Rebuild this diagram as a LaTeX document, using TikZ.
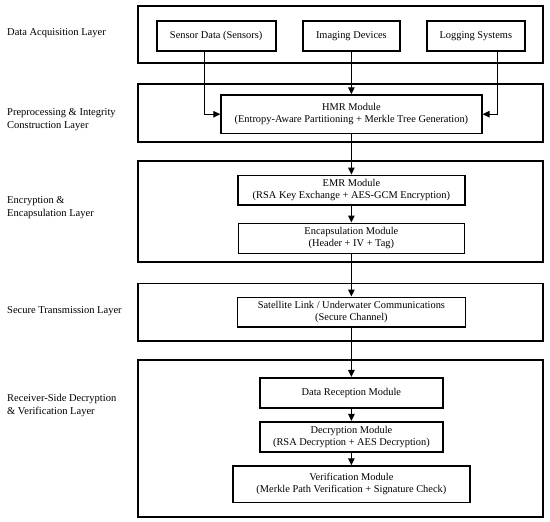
\documentclass[tikz,border=0pt]{standalone}
\usepackage{fontspec}
\setmainfont{Liberation Serif}
\usetikzlibrary{arrows.meta}
\begin{document}
\begin{tikzpicture}[x=1pt,y=-1pt,
  layerbox/.style={draw, line width=1.7pt, inner sep=0pt, minimum width=405pt},
  modbox/.style={draw, line width=1.6pt, inner sep=0pt, align=center, font=\fontsize{10.4}{12}\selectfont},
  laylabel/.style={anchor=west, inner sep=0pt, align=left, font=\fontsize{10.5}{13}\selectfont},
  arr/.style={line width=1.2pt, -{Triangle[length=7pt,width=6.5pt]}}]
\useasboundingbox (0,0) rectangle (550,522);
% layers
\node[layerbox, minimum height=57pt] (L1) at (340.5,34.5) {};
\node[layerbox, minimum height=57.4pt] (L2) at (340.5,113) {};
\node[layerbox, minimum height=101pt] (L3) at (340.5,211.5) {};
\node[layerbox, minimum height=57.7pt] (L4) at (340.5,312.2) {};
\node[layerbox, minimum height=157pt] (L5) at (340.5,438.5) {};
% labels
\node[laylabel] (T1) at (7,33) {Data Acquisition Layer};
\node[laylabel] (T2) at (7,120) {Preprocessing \& Integrity\\Construction Layer};
\node[laylabel] (T3) at (7,208) {Encryption \&\\Encapsulation Layer};
\node[laylabel] (T4) at (7,311) {Secure Transmission Layer};
\node[laylabel] (T5) at (7,405.5) {Receiver-Side Decryption\\\& Verification Layer};
% modules
\node[modbox, minimum width=119pt, minimum height=30pt] (sensor) at (216.2,35.7) {Sensor Data (Sensors)};
\node[modbox, minimum width=97pt, minimum height=30pt] (imaging) at (351.4,35.7) {Imaging Devices};
\node[modbox, minimum width=98.3pt, minimum height=30pt] (logging) at (475.85,35.7) {Logging Systems};
\node[modbox, minimum width=260.7pt, minimum height=38.3pt] (hmr) at (351.4,114.2) {HMR Module\\(Entropy-Aware Partitioning + Merkle Tree Generation)};
\node[modbox, minimum width=227pt, minimum height=29.7pt] (emr) at (351.4,190.2) {EMR Module\\(RSA Key Exchange + AES-GCM Encryption)};
\node[modbox, minimum width=226pt, minimum height=30pt] (encap) at (351.4,238.3) {Encapsulation Module\\(Header + IV + Tag)};
\node[modbox, minimum width=228pt, minimum height=29.4pt] (sat) at (351.4,312) {Satellite Link / Underwater Communications\\(Secure Channel)};
\node[modbox, minimum width=183pt, minimum height=30.3pt] (rec) at (351.4,392.9) {Data Reception Module};
\node[modbox, minimum width=183pt, minimum height=30pt] (dec) at (351.4,436.7) {Decryption Module\\(RSA Decryption + AES Decryption)};
\node[modbox, minimum width=236.8pt, minimum height=36.3pt] (ver) at (351.4,484.2) {Verification Module\\(Merkle Path Verification + Signature Check)};
% connectors
\draw[arr] ([xshift=-11.5pt]sensor.south) |- (hmr.west);
\draw[arr] (imaging.south) -- (hmr.north);
\draw[arr] ([xshift=21.85pt]logging.south) |- (hmr.east);
\draw[arr] (hmr.south) -- (emr.north);
\draw[arr] (emr.south) -- (encap.north);
\draw[arr] (encap.south) -- (sat.north);
\draw[arr] (sat.south) -- (rec.north);
\draw[arr] (rec.south) -- (dec.north);
\draw[arr] (dec.south) -- (ver.north);
\end{tikzpicture}
\end{document}
